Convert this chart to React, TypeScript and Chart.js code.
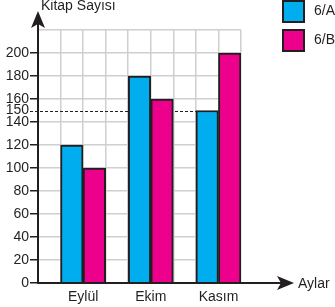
import React, { useEffect, useRef } from "react";
import { Chart, registerables } from "chart.js";

Chart.register(...registerables);

const months = ["Eylül", "Ekim", "Kasım"];
const classA = [120, 180, 150];
const classB = [100, 160, 200];
const yTickValues = [0, 20, 40, 60, 80, 100, 120, 140, 160, 180, 200, 220];
const markedValue = 150;
const legendLabels = ["6/A", "6/B"];
const yTitle = "Kitap Sayısı";
const xTitle = "Aylar";

const BLUE = "#00aeef";
const PINK = "#ec008c";
const DARK = "#231f20";
const GRID = "#cfcfcf";
const FONT = "'Liberation Sans', Arial, sans-serif";

// 3 slots per month: empty, class A, class B
const slots: string[] = [];
const dataA: (number | null)[] = [];
const dataB: (number | null)[] = [];
months.forEach((m, i) => {
  slots.push(m + "-", m + "-A", m + "-B");
  dataA.push(null, classA[i], null);
  dataB.push(null, null, classB[i]);
});

const decorPlugin = {
  id: "decor",
  beforeDatasetsDraw(chart: any) {
    const { ctx, scales } = chart;
    const y = scales.y.getPixelForValue(markedValue);
    // find the bar whose value is the marked one (class A, Kasım)
    const meta = chart.getDatasetMeta(0);
    const idx = classA.indexOf(markedValue);
    const bar = meta.data[idx * 3 + 1];
    const endX = bar.x - bar.width / 2;
    ctx.save();
    ctx.strokeStyle = DARK;
    ctx.lineWidth = 1;
    ctx.setLineDash([3, 2]);
    ctx.beginPath();
    ctx.moveTo(30, Math.round(y) + 0.5);
    ctx.lineTo(endX, Math.round(y) + 0.5);
    ctx.stroke();
    ctx.restore();
  },
  afterDraw(chart: any) {
    const { ctx, chartArea } = chart;
    const x0 = chartArea.left;
    const y0 = chartArea.bottom;
    ctx.save();
    ctx.strokeStyle = DARK;
    ctx.fillStyle = DARK;
    ctx.lineWidth = 2;
    // y axis
    ctx.beginPath();
    ctx.moveTo(x0, y0 + 1);
    ctx.lineTo(x0, 22);
    ctx.stroke();
    ctx.beginPath();
    ctx.moveTo(x0, 11);
    ctx.lineTo(x0 - 7, 28);
    ctx.lineTo(x0, 24);
    ctx.lineTo(x0 + 7, 28);
    ctx.closePath();
    ctx.fill();
    // x axis
    ctx.beginPath();
    ctx.moveTo(x0 - 1, y0);
    ctx.lineTo(285, y0);
    ctx.stroke();
    ctx.beginPath();
    ctx.moveTo(294, y0);
    ctx.lineTo(277, y0 - 7);
    ctx.lineTo(281, y0);
    ctx.lineTo(277, y0 + 7);
    ctx.closePath();
    ctx.fill();
    // titles
    ctx.font = "14px " + FONT;
    ctx.textBaseline = "middle";
    ctx.textAlign = "left";
    ctx.fillText(yTitle, 41, 6);
    ctx.fillText(xTitle, 298, y0 + 1);
    // legend
    const colors = [BLUE, PINK];
    legendLabels.forEach((lab, i) => {
      const top = i * 29;
      ctx.fillStyle = colors[i];
      ctx.fillRect(282, top, 23, 23);
      ctx.strokeStyle = DARK;
      ctx.lineWidth = 2;
      ctx.strokeRect(283, top + 1, 21, 21);
      ctx.fillStyle = DARK;
      ctx.fillText(lab, 314, top + 11);
    });
    ctx.restore();
  },
};

export default function App() {
  const ref = useRef<HTMLCanvasElement | null>(null);
  useEffect(() => {
    if (!ref.current) return;
    const chart = new Chart(ref.current, {
      type: "bar",
      data: {
        labels: slots,
        datasets: [
          {
            label: legendLabels[0],
            data: dataA,
            backgroundColor: BLUE,
            borderColor: DARK,
            borderWidth: 2,
            borderSkipped: "bottom",
            grouped: false,
            barPercentage: 1,
            categoryPercentage: 1,
          },
          {
            label: legendLabels[1],
            data: dataB,
            backgroundColor: PINK,
            borderColor: DARK,
            borderWidth: 2,
            borderSkipped: "bottom",
            grouped: false,
            barPercentage: 1,
            categoryPercentage: 1,
          },
        ] as any,
      },
      options: {
        animation: false,
        responsive: false,
        maintainAspectRatio: false,
        layout: { padding: { top: 30, right: 94, left: 0, bottom: 0 } },
        plugins: { legend: { display: false }, tooltip: { enabled: false } },
        scales: {
          x: {
            type: "category",
            offset: true,
            afterFit(scale: any) {
              scale.height = 24;
            },
            grid: {
              offset: true,
              color: GRID,
              lineWidth: 1.5,
              drawTicks: false,
            },
            border: { display: false },
            ticks: {
              autoSkip: false,
              maxRotation: 0,
              padding: 6,
              labelOffset: 11.3,
              color: DARK,
              font: { family: FONT, size: 14 },
              callback: (_v: any, i: number) => (i % 3 === 1 ? months[(i - 1) / 3] : ""),
            },
          },
          y: {
            type: "linear",
            min: 0,
            max: 220,
            afterFit(scale: any) {
              scale.width = 38;
            },
            afterBuildTicks(scale: any) {
              scale.ticks = [...yTickValues, markedValue].map((v) => ({ value: v }));
            },
            grid: {
              color: (c: any) =>
                c.tick && (c.tick.value === markedValue || c.tick.value === 0) ? "rgba(0,0,0,0)" : GRID,
              lineWidth: 1.5,
              tickLength: 8,
              tickWidth: 1.5,
              tickColor: (c: any) =>
                c.tick && (c.tick.value === markedValue || c.tick.value === 220) ? "rgba(0,0,0,0)" : DARK,
            },
            border: { display: false },
            ticks: {
              autoSkip: false,
              padding: 1,
              color: DARK,
              font: { family: FONT, size: 14 },
              callback: (v: any) => (v === 220 ? "" : String(v)),
            },
          },
        },
      } as any,
      plugins: [decorPlugin],
    });
    return () => chart.destroy();
  }, []);
  return (
    <div style={{ position: "absolute", left: 0, top: 0, width: 335, height: 307 }}>
      <canvas ref={ref} width={335} height={307} style={{ width: 335, height: 307 }} />
    </div>
  );
}
